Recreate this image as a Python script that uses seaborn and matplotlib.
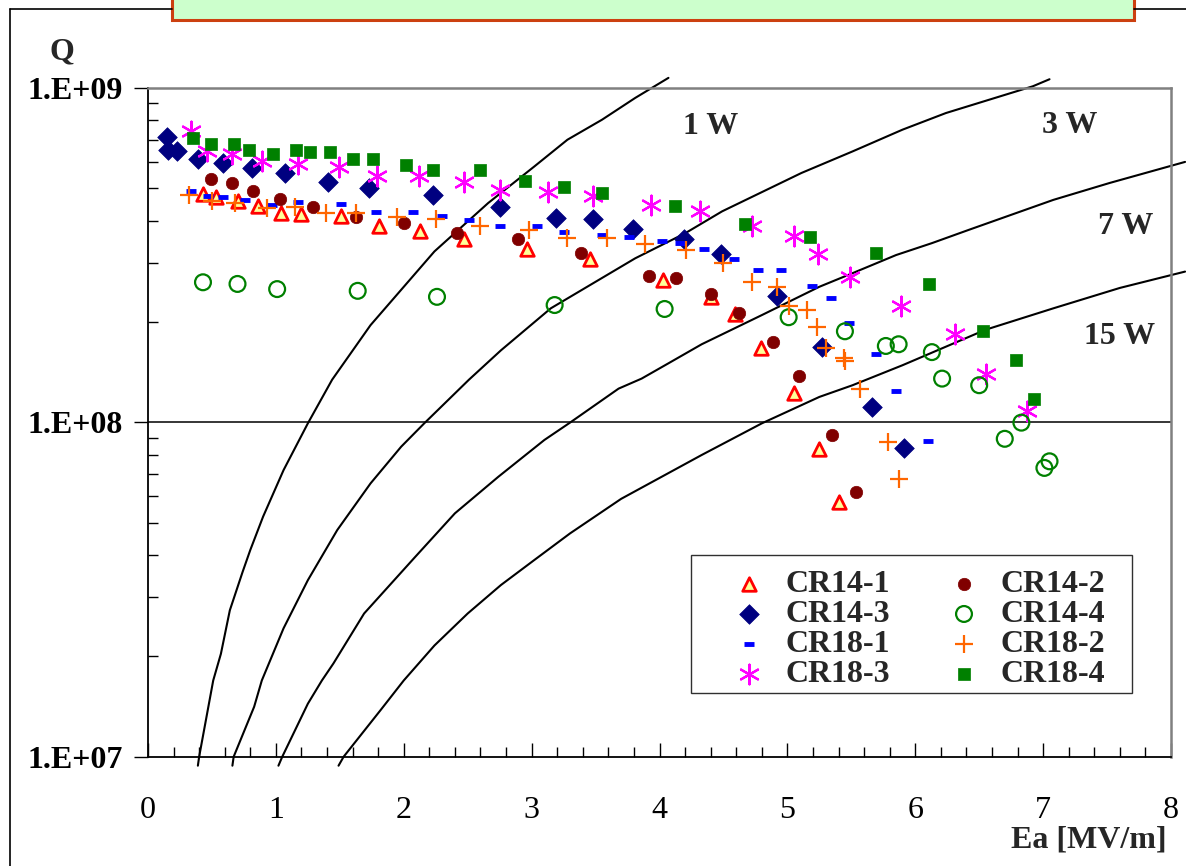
import matplotlib
matplotlib.use("Agg")
import matplotlib.pyplot as plt
import seaborn as sns
from matplotlib.lines import Line2D
from matplotlib.patches import Rectangle
from matplotlib.ticker import FixedLocator, FixedFormatter, MultipleLocator, LogLocator, NullFormatter
from matplotlib.font_manager import FontProperties

# ── Data (Ea in MV/m, Q0) ──────────────────────────────────────────────
cr14_1_ea = [0.43, 0.53, 0.70, 0.86, 1.04, 1.20, 1.51, 1.81, 2.13, 2.47, 2.96, 3.46, 4.03,
             4.40, 4.59, 4.79, 5.05, 5.25, 5.40]
cr14_1_q = [4.81e8, 4.70e8, 4.57e8, 4.43e8, 4.23e8, 4.19e8, 4.14e8, 3.85e8, 3.74e8, 3.53e8,
            3.29e8, 3.07e8, 2.66e8, 2.37e8, 2.10e8, 1.67e8, 1.22e8, 8.33e7, 5.77e7]

cr14_2_ea = [0.49, 0.66, 0.82, 1.03, 1.29, 1.63, 2.00, 2.42, 2.89, 3.39, 3.92, 4.13, 4.40,
             4.62, 4.89, 5.09, 5.35, 5.54]
cr14_2_q = [5.33e8, 5.19e8, 4.92e8, 4.65e8, 4.41e8, 4.12e8, 3.95e8, 3.69e8, 3.53e8, 3.20e8,
            2.74e8, 2.70e8, 2.41e8, 2.12e8, 1.74e8, 1.37e8, 9.18e7, 6.17e7]

cr14_3_ea = [0.15, 0.16, 0.23, 0.39, 0.59, 0.81, 1.07, 1.41, 1.73, 2.23, 2.75, 3.19, 3.48,
             3.79, 4.19, 4.48, 4.92, 5.27, 5.66, 5.91]
cr14_3_q = [7.10e8, 6.52e8, 6.45e8, 6.12e8, 5.95e8, 5.77e8, 5.56e8, 5.24e8, 5.01e8, 4.79e8,
            4.40e8, 4.09e8, 4.05e8, 3.79e8, 3.53e8, 3.18e8, 2.38e8, 1.68e8, 1.11e8, 8.37e7]

cr14_4_ea = [0.43, 0.70, 1.01, 1.64, 2.26, 3.18, 4.04, 5.01, 5.45, 5.77, 5.87, 6.13, 6.21,
             6.50, 6.70, 6.83, 7.01, 7.05]
cr14_4_q = [2.62e8, 2.59e8, 2.50e8, 2.47e8, 2.37e8, 2.24e8, 2.18e8, 2.06e8, 1.87e8, 1.69e8,
            1.71e8, 1.62e8, 1.35e8, 1.29e8, 8.92e7, 9.97e7, 7.30e7, 7.64e7]

cr18_1_ea = [0.34, 0.47, 0.59, 0.76, 0.97, 1.17, 1.51, 1.78, 2.07, 2.30, 2.51, 2.75, 3.04,
             3.25, 3.55, 3.76, 4.02, 4.16, 4.35, 4.58, 4.77, 4.95, 5.19, 5.34, 5.48, 5.69,
             5.85, 6.10]
cr18_1_q = [4.92e8, 4.76e8, 4.70e8, 4.62e8, 4.45e8, 4.55e8, 4.50e8, 4.25e8, 4.26e8, 4.14e8,
            4.01e8, 3.85e8, 3.85e8, 3.70e8, 3.64e8, 3.58e8, 3.48e8, 3.44e8, 3.29e8, 3.07e8,
            2.85e8, 2.85e8, 2.56e8, 2.35e8, 1.98e8, 1.60e8, 1.24e8, 8.81e7]

cr18_2_ea = [0.32, 0.50, 0.68, 0.93, 1.15, 1.39, 1.63, 1.95, 2.25, 2.60, 2.98, 3.28, 3.59,
             3.89, 4.21, 4.50, 4.72, 4.92, 5.01, 5.15, 5.23, 5.30, 5.44, 5.45, 5.57, 5.79, 5.87]
cr18_2_q = [4.78e8, 4.60e8, 4.52e8, 4.38e8, 4.40e8, 4.22e8, 4.21e8, 4.11e8, 4.04e8, 3.86e8,
            3.76e8, 3.55e8, 3.55e8, 3.40e8, 3.27e8, 2.99e8, 2.63e8, 2.53e8, 2.22e8, 2.16e8,
            1.93e8, 1.67e8, 1.56e8, 1.52e8, 1.26e8, 8.74e7, 6.77e7]

cr18_3_ea = [0.34, 0.46, 0.66, 0.89, 1.17, 1.49, 1.79, 2.12, 2.47, 2.75, 3.13, 3.48, 3.93,
             4.32, 4.72, 5.05, 5.24, 5.49, 5.89, 6.31, 6.55, 6.87]
cr18_3_q = [7.40e8, 6.45e8, 6.35e8, 6.05e8, 5.91e8, 5.81e8, 5.45e8, 5.43e8, 5.23e8, 4.95e8,
            4.87e8, 4.73e8, 4.47e8, 4.29e8, 3.87e8, 3.61e8, 3.18e8, 2.71e8, 2.23e8, 1.83e8,
            1.39e8, 1.08e8]

cr18_4_ea = [0.35, 0.49, 0.67, 0.79, 0.98, 1.16, 1.27, 1.42, 1.60, 1.76, 2.02, 2.23, 2.60,
             2.95, 3.25, 3.55, 4.12, 4.67, 5.18, 5.69, 6.11, 6.53, 6.79, 6.93]
cr18_4_q = [7.07e8, 6.80e8, 6.81e8, 6.51e8, 6.32e8, 6.51e8, 6.42e8, 6.42e8, 6.14e8, 6.14e8,
            5.88e8, 5.66e8, 5.66e8, 5.27e8, 5.05e8, 4.83e8, 4.43e8, 3.91e8, 3.58e8, 3.20e8,
            2.59e8, 1.87e8, 1.53e8, 1.17e8]

# constant dissipated power lines
p1_ea = [0.39, 0.40, 0.51, 0.57, 0.64, 0.74, 0.80, 0.90, 1.06, 1.25, 1.44, 1.74, 2.24, 2.66,
         3.02, 3.28, 3.55, 3.81, 4.07]
p1_q = [9.4e6, 1.0e7, 1.69e7, 2.03e7, 2.74e7, 3.57e7, 4.15e7, 5.22e7, 7.19e7, 9.92e7,
        1.34e8, 1.95e8, 3.24e8, 4.52e8, 5.81e8, 6.99e8, 8.02e8, 9.32e8, 1.07e9]
p3_ea = [0.66, 0.67, 0.83, 0.89, 1.06, 1.25, 1.48, 1.74, 1.98, 2.16, 2.51, 2.76, 3.15, 3.81,
         4.20, 4.49, 5.11, 5.51, 5.90, 6.24, 6.92, 7.05]
p3_q = [9.4e6, 1.0e7, 1.41e7, 1.69e7, 2.42e7, 3.37e7, 4.76e7, 6.56e7, 8.45e7, 9.92e7,
        1.34e8, 1.64e8, 2.19e8, 3.09e8, 3.67e8, 4.27e8, 5.56e8, 6.45e8, 7.49e8, 8.40e8,
        1.01e9, 1.06e9]
p7_ea = [1.02, 1.05, 1.25, 1.36, 1.45, 1.69, 2.08, 2.40, 2.74, 3.10, 3.30, 3.68, 3.86, 4.07,
         4.33, 4.80, 5.25, 5.51, 5.85, 6.13, 6.42, 7.08, 7.52, 8.11]
p7_q = [9.4e6, 1.0e7, 1.44e7, 1.69e7, 1.90e7, 2.68e7, 3.92e7, 5.34e7, 6.87e7, 8.85e7,
        9.97e7, 1.26e8, 1.35e8, 1.50e8, 1.71e8, 2.09e8, 2.54e8, 2.79e8, 3.16e8, 3.43e8,
        3.76e8, 4.62e8, 5.19e8, 6.0e8]
p15_ea = [1.49, 1.53, 1.82, 2.00, 2.24, 2.50, 2.76, 3.02, 3.30, 3.70, 4.33, 4.80, 5.25, 5.51,
          5.90, 6.55, 7.08, 7.60, 8.11]
p15_q = [9.4e6, 1.0e7, 1.38e7, 1.69e7, 2.15e7, 2.68e7, 3.26e7, 3.87e7, 4.65e7, 5.9e7,
         7.98e7, 9.92e7, 1.19e8, 1.29e8, 1.48e8, 1.89e8, 2.19e8, 2.52e8, 2.82e8]

power_labels = ["1 W", "3 W", "7 W", "15 W"]
power_label_pos = [(4.18, 7.27e8), (6.99, 7.31e8), (7.43, 3.65e8), (7.32, 1.71e8)]

y_ticks = [1e7, 1e8, 1e9]
y_tick_labels = ["1.E+07", "1.E+08", "1.E+09"]
x_ticks = [0, 1, 2, 3, 4, 5, 6, 7, 8]

# ── Figure ────────────────────────────────────────────────────────────
W, H = 1186, 866
sns.set_theme(style="white")
plt.rcParams["font.family"] = ["Liberation Serif", "DejaVu Serif"]
FS = 23

fig = plt.figure(figsize=(W / 100, H / 100), dpi=100)
ax = fig.add_axes([148 / W, 1 - 756.7 / H, (1171 - 148) / W, (756.7 - 87.7) / H])
ax.set_yscale("log")

for ea, q in [(p1_ea, p1_q), (p3_ea, p3_q), (p7_ea, p7_q), (p15_ea, p15_q)]:
    sns.lineplot(x=ea, y=q, ax=ax, color="black", lw=1.5, sort=False,
                 estimator=None, clip_on=False, zorder=2)

series = [
    ("CR14-1", cr14_1_ea, cr14_1_q, dict(marker="^", s=95, facecolor="#FFFF99", edgecolor="#FF0000", linewidth=2.0)),
    ("CR14-3", cr14_3_ea, cr14_3_q, dict(marker="D", s=100, color="#000080", edgecolor="#000080", linewidth=0.5)),
    ("CR18-1", cr18_1_ea, cr18_1_q, dict(marker="_", s=60, color="#0000FF", linewidth=3.5)),
    ("CR18-3", cr18_3_ea, cr18_3_q, dict(marker=(6, 2, 0), s=200, color="#FF00FF", linewidth=1.6)),
    ("CR14-2", cr14_2_ea, cr14_2_q, dict(marker="o", s=80, color="#800000", edgecolor="#800000", linewidth=0.5)),
    ("CR14-4", cr14_4_ea, cr14_4_q, dict(marker="o", s=130, facecolor="none", edgecolor="#008000", linewidth=1.6)),
    ("CR18-2", cr18_2_ea, cr18_2_q, dict(marker="+", s=180, color="#FF6600", linewidth=1.6)),
    ("CR18-4", cr18_4_ea, cr18_4_q, dict(marker="s", s=80, color="#008000", edgecolor="#008000", linewidth=0.5)),
]
for name, ea, q, style in series:
    sns.scatterplot(x=ea, y=q, ax=ax, label=name, zorder=3, **style)

ax.set_xlim(0, 8)
ax.set_ylim(1e7, 1e9)
ax.set_xlabel("")
ax.set_ylabel("")

# ticks
ax.xaxis.set_major_locator(FixedLocator(x_ticks))
ax.xaxis.set_minor_locator(MultipleLocator(0.2))
ax.yaxis.set_major_locator(FixedLocator(y_ticks))
ax.yaxis.set_major_formatter(FixedFormatter(y_tick_labels))
ax.yaxis.set_minor_locator(LogLocator(base=10, subs=range(2, 10)))
ax.yaxis.set_minor_formatter(NullFormatter())
ax.tick_params(axis="x", which="major", direction="in", length=10, width=1,
               colors="black", pad=28, labelsize=FS, bottom=True)
ax.tick_params(axis="x", which="minor", direction="in", length=7, width=1,
               colors="black", bottom=True)
ax.tick_params(axis="y", which="major", direction="out", length=10, width=1,
               colors="black", pad=8, labelsize=FS, left=True)
ax.tick_params(axis="y", which="minor", direction="in", length=7, width=1,
               colors="black", left=True)
for lbl in ax.get_yticklabels():
    lbl.set_fontweight("bold")

ax.grid(False)
ax.axhline(1e8, color="black", lw=1.1, zorder=1)

for side in ["left", "bottom"]:
    ax.spines[side].set_color("black")
    ax.spines[side].set_linewidth(1.3)
for side in ["top", "right"]:
    ax.spines[side].set_color("#808080")
    ax.spines[side].set_linewidth(1.8)

# power line labels
for txt, (x, y) in zip(power_labels, power_label_pos):
    ax.text(x, y, txt, fontsize=FS, fontweight="bold", ha="left", va="baseline")

# legend (frame drawn separately)
ax.add_artist(Rectangle((691 / W, 1 - 693 / H), (1132 - 691) / W, (693 - 555) / H,
                        transform=fig.transFigure, facecolor="white",
                        edgecolor="#303030", lw=1.0, zorder=4, clip_on=False))
handles, labels = ax.get_legend_handles_labels()
leg = ax.legend(handles, labels, ncol=2, loc="upper left",
                bbox_to_anchor=(730 / W, 1 - 570 / H), bbox_transform=fig.transFigure,
                prop=FontProperties(family=["Liberation Serif"], weight="bold", size=FS),
                frameon=False, borderpad=0, borderaxespad=0, labelspacing=0.02,
                handlelength=1.2, handletextpad=0.55, columnspacing=1.7)
leg.set_zorder(5)

# axis titles
fig.text(62 / W, 1 - 59 / H, "Q", fontsize=FS, fontweight="bold", ha="center", va="baseline")
fig.text(1167 / W, 1 - 848 / H, "Ea [MV/m]", fontsize=FS, fontweight="bold",
         ha="right", va="baseline")

# slide frame and title box
fig.add_artist(Line2D([10 / W, 10 / W], [0, 1 - 9 / H], transform=fig.transFigure,
                      color="black", lw=1.2))
fig.add_artist(Line2D([10 / W, 172 / W], [1 - 9 / H, 1 - 9 / H], transform=fig.transFigure,
                      color="black", lw=1.2))
fig.add_artist(Line2D([1134 / W, 1], [1 - 9 / H, 1 - 9 / H], transform=fig.transFigure,
                      color="black", lw=1.2))
fig.add_artist(Rectangle((172 / W, 1 - 19.5 / H), (1134 - 172) / W, 30 / H,
                         transform=fig.transFigure, facecolor="#CCFFCC",
                         edgecolor="#CC4010", lw=2.2))

fig.savefig("out.png", dpi=100)
plt.close(fig)
